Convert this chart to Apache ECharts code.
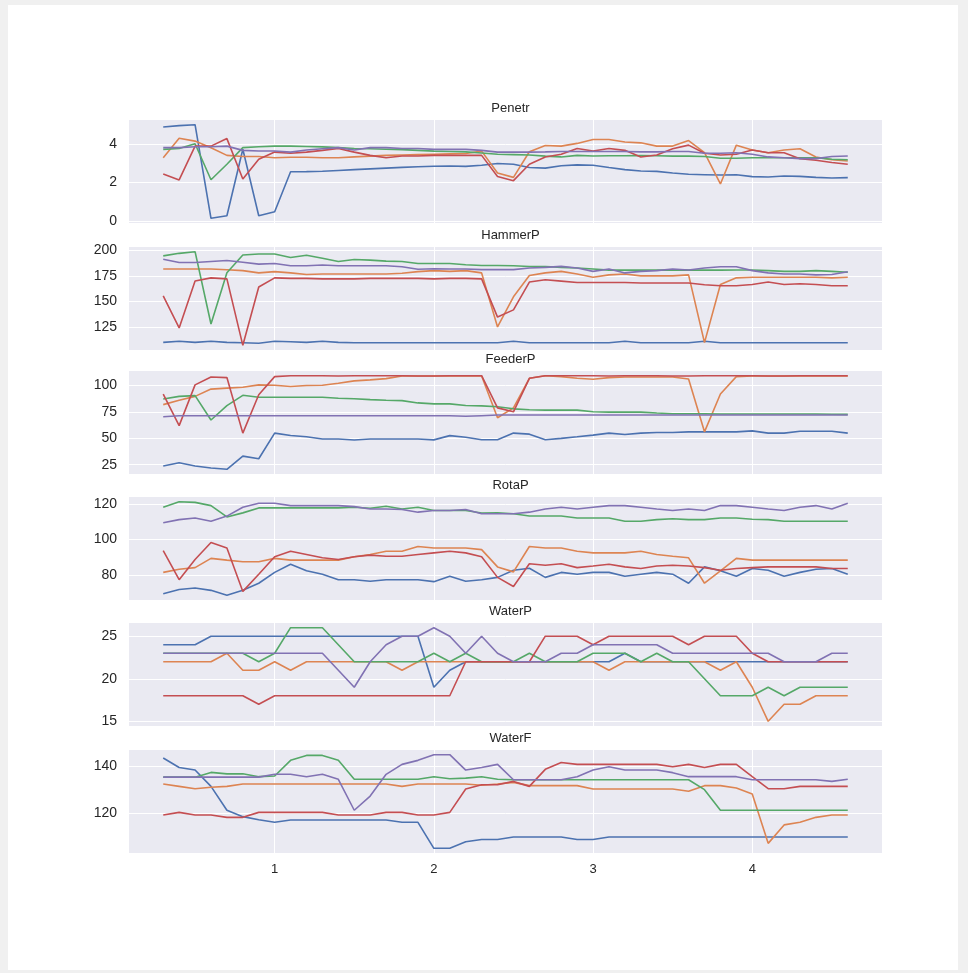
<!DOCTYPE html>
<html>
<head>
<meta charset="utf-8">
<script src="https://cdn.jsdelivr.net/npm/echarts@6/dist/echarts.min.js"></script>
<style>
html,body{margin:0;padding:0;background:#f0f0f0;}
#frame{position:absolute;left:8px;top:5px;width:950px;height:965px;background:#fff;}
#chart{position:absolute;left:0;top:0;width:968px;height:973px;}
</style>
</head>
<body>
<div id="frame"></div>
<div id="chart"></div>
<script>
// x positions of the samples
const xs = [0.3,0.4,0.5,0.6,0.7,0.8,0.9,1.0,1.1,1.2,1.3,1.4,1.5,1.6,1.7,1.8,1.9,2.0,2.1,2.2,2.3,2.4,2.5,2.6,2.7,2.8,2.9,3.0,3.1,3.2,3.3,3.4,3.5,3.6,3.7,3.8,3.9,4.0,4.1,4.2,4.3,4.4,4.5,4.6];
const xTicks = [1,2,3,4];
const panelTitles = ['Penetr','HammerP','FeederP','RotaP','WaterP','WaterF'];
const yTicks = [[0,2,4],[125,150,175,200],[25,50,75,100],[80,100,120],[15,20,25],[120,140]];

// Penetr
const penetrBlue = [4.87,4.94,4.99,0.14,0.27,3.72,0.27,0.48,2.55,2.56,2.58,2.62,2.66,2.70,2.74,2.78,2.81,2.84,2.85,2.83,2.89,2.98,2.94,2.77,2.74,2.86,2.91,2.89,2.77,2.66,2.59,2.57,2.49,2.42,2.40,2.38,2.40,2.30,2.28,2.33,2.31,2.26,2.23,2.25];
const penetrOrange = [3.28,4.29,4.14,3.80,3.40,3.34,3.34,3.28,3.30,3.30,3.28,3.28,3.32,3.36,3.40,3.42,3.44,3.46,3.48,3.50,3.62,2.49,2.26,3.59,3.91,3.88,4.02,4.22,4.22,4.09,4.05,3.88,3.88,4.17,3.54,1.92,3.93,3.68,3.54,3.68,3.74,3.32,3.17,3.11];
const penetrGreen = [3.71,3.76,4.00,2.14,2.94,3.80,3.85,3.88,3.88,3.86,3.84,3.80,3.76,3.74,3.72,3.70,3.66,3.62,3.60,3.58,3.52,3.46,3.44,3.42,3.36,3.32,3.40,3.37,3.38,3.38,3.39,3.38,3.36,3.36,3.34,3.25,3.25,3.28,3.28,3.28,3.28,3.28,3.20,3.17];
const penetrRed = [2.43,2.13,3.88,3.88,4.27,2.18,3.20,3.57,3.51,3.57,3.66,3.76,3.57,3.40,3.28,3.37,3.37,3.40,3.40,3.40,3.40,2.31,2.09,2.94,3.32,3.46,3.76,3.63,3.76,3.66,3.32,3.42,3.74,3.93,3.51,3.42,3.46,3.68,3.54,3.54,3.23,3.15,3.03,2.94];
const penetrPurple = [3.80,3.80,3.85,3.85,3.88,3.66,3.63,3.63,3.57,3.68,3.74,3.80,3.68,3.80,3.80,3.76,3.76,3.71,3.71,3.71,3.66,3.57,3.57,3.57,3.58,3.60,3.60,3.60,3.60,3.60,3.58,3.58,3.60,3.60,3.51,3.51,3.54,3.46,3.32,3.28,3.23,3.23,3.34,3.37];

// HammerP
const hammerBlue = [110.4,111.4,110.4,111.4,110.4,110,109.5,111.4,111,110.4,111.4,110.4,110,110,110,110,110,110,110,110,110,110,111.4,110,110,110,110,110,110,111.4,110,110,110,110,111.4,110,110,110,110,110,110,110,110,110];
const hammerOrange = [181.6,181.6,181.6,181.6,180.9,180,177.8,179,177.8,176.2,176.8,176.8,176.8,176.8,176.8,177.4,179,180,179.3,180,177.8,125.3,154.6,175.2,177.8,179.3,176.8,173.6,175.9,176.8,174.9,174.9,174.9,175.9,110.1,166.6,173,173.6,173.6,173.6,173.6,173.6,173,173.6];
const hammerGreen = [194.3,196.8,198.4,128.2,178,195.2,196.2,196.2,192.7,194.9,192,188.9,190.8,190.2,189.2,188.9,187,187,187,185.7,185,185,184.7,184,184,183.2,182.5,181.6,180.5,180.5,180.5,180.5,180.5,180.5,180.5,180.5,180.6,180.6,180,179.3,179.3,180,179.3,178.4];
const hammerRed = [155.5,124.4,170,173,172,107.5,164.1,173,172.5,172.5,172,172,172,172.5,172.5,172.5,172.5,172,172.5,172.5,172,134.9,141.9,168.9,171.1,169.8,168.5,168.5,168.5,168.5,168,168,168,168,166.3,165.4,165.4,166.6,168.9,166.6,167.3,166.6,165.4,165.4];
const hammerPurple = [191.1,187.9,187.9,188.9,189.8,188.2,186.3,187,184.7,184.7,185.4,184.7,184.7,184.7,184.7,183.8,181.3,181.9,181.6,181.6,181,181,181,182.5,183.2,184.1,182.5,179.3,181.6,177.8,179.3,180,181.6,180.6,182.5,183.8,183.8,180,177.8,176.8,176.8,175.9,176.2,179];

// FeederP
const feederBlue = [23.7,26.8,23.7,21.9,20.6,33.1,30.6,54.9,52.7,51.4,49.3,49.3,48.3,49.3,49.3,49.3,49.3,48.5,52.5,51,48.6,48.6,54.9,53.9,48.6,49.9,51.4,53,54.9,53.6,54.9,55.5,55.5,56.1,56.1,56.1,56.1,57,54.9,54.9,56.7,56.7,56.7,54.9];
const feederOrange = [81.9,86,89.7,96.6,97.5,98.4,100.6,100.3,99.1,100,100.3,102.2,104.4,105.3,106.5,109,109,109,109,109,109,69.5,78.8,106.8,109.3,108.4,106.8,105.9,107.5,108,108,108,108,106.2,56.1,91.9,108.4,109,109,109,109,109,109,109];
const feederGreen = [87.2,89.7,90.4,67.3,81,90.7,88.8,88.8,88.8,88.8,88.8,87.9,87.5,86.6,86,85.7,83.5,82.6,82.6,81,80.7,79.8,77.9,77,76.7,76.7,76.7,75.1,74.8,74.8,74.8,73.9,73.2,73.2,73.2,73,73,73,73,73,73,73,72.8,72.6];
const feederRed = [91.9,62,100.6,108.1,107.5,54.9,91.3,108.4,109.3,109.3,109.3,109,109.3,109.3,109.3,109.3,109,109,109.3,109.3,109.3,78.8,75.1,106.8,109.3,109.3,109.3,109.3,109,109.3,109.3,109.3,109,109,109.3,109.3,109.3,109.3,109,109,109.3,109.3,109.3,109.3];
const feederPurple = [70.4,71.4,71.4,71.4,71.4,71.4,71.4,71.4,71.4,71.4,71.4,71.4,71.4,71.4,71.4,71.4,71.4,71.4,71.4,70.8,71.4,72,72,72,72,72,72,72,72,72,72,72,72,72,72,72,72,72,72,72,72,72,72,72];

// RotaP
const rotaBlue = [69.5,71.9,72.7,71.4,68.6,71.4,75.4,81.5,86.1,82.4,80.5,77.4,77.4,76.5,77.4,77.4,77.4,76.3,79.3,76.5,77.4,78.7,82.7,83.8,78.7,81.5,80.5,81.5,81.5,79.3,80.5,81.5,80.5,75.4,84.6,82.4,79.3,83.7,82.7,79.3,81.5,83.3,83.7,80.5];
const rotaOrange = [81.5,83.3,84.2,89.4,88.4,87.5,87.5,89.4,88.4,88.4,88.4,88.4,90.3,91.6,93.4,93.4,96.1,95.2,95.2,95.2,94.3,84.6,81.8,96.1,95.2,95.2,93.4,92.5,92.5,92.5,93.4,91.6,90.6,89.7,75.4,82.4,89.4,88.4,88.4,88.4,88.4,88.4,88.4,88.4];
const rotaGreen = [118.2,121.3,120.9,119.1,112.7,115,117.8,117.8,117.8,117.8,117.8,117.8,118.2,117.6,118.7,117.2,118.2,116.3,116.3,116.3,114.9,115,114.5,113.2,113.2,113.2,112.1,112.1,112.1,110.3,110.3,111.2,111.7,111.2,111.2,112.1,112.1,111.4,111.2,110.3,110.3,110.3,110.3,110.3];
const rotaRed = [93.8,77.4,88.8,98.3,95.2,70.8,80.5,90.3,93.4,91.6,89.7,88.8,90.3,91.2,90.6,90.6,91.6,92.5,93.4,92.5,90.3,78.7,73.6,86.4,85.5,86.4,84.2,85.1,86.1,84.6,83.7,85.1,85.5,85.1,84.2,82.7,83.7,84.2,84.6,84.6,84.6,84.6,83.7,83.7];
const rotaPurple = [109.4,111.2,112.1,110.3,113.2,118.2,120.4,120.4,119.1,119.1,119.1,119.1,118.5,117.2,117.2,116.9,115.4,116.3,116.3,116.9,114.5,114.5,114.5,115.4,117.2,118.2,117.2,118.2,119.1,119.1,118.2,117.2,116.3,117.2,116.3,119.1,119.1,118.2,117.2,116.3,118.2,119.1,117.2,120.4];

// WaterP
const waterPBlue = [24,24,24,25,25,25,25,25,25,25,25,25,25,25,25,25,25,19,21,22,22,22,22,22,22,22,22,22,22,23,22,22,22,22,22,22,22,22,22,22,22,22,22,22];
const waterPOrange = [22,22,22,22,23,21,21,22,21,22,22,22,22,22,22,21,22,22,22,22,22,22,22,22,22,22,22,22,21,22,22,22,22,22,22,21,22,19,15,17,17,18,18,18];
const waterPGreen = [23,23,23,23,23,23,22,23,26,26,26,24,22,22,22,22,22,23,22,23,22,22,22,23,22,22,22,23,23,23,22,23,22,22,20,18,18,18,19,18,19,19,19,19];
const waterPRed = [18,18,18,18,18,18,17,18,18,18,18,18,18,18,18,18,18,18,18,22,22,22,22,22,25,25,25,24,25,25,25,25,25,24,25,25,25,23,22,22,22,22,22,22];
const waterPPurple = [23,23,23,23,23,23,23,23,23,23,23,21,19,22,24,25,25,26,25,23,25,23,22,22,22,23,23,24,24,24,24,24,23,23,23,23,23,23,23,22,22,22,23,23];

// WaterF
const waterFBlue = [143.3,139.3,138.2,131.3,121.2,118.5,117.2,116.1,117.1,117.1,117.1,117.1,117.1,117.1,117.1,116.1,116.1,105.1,105.1,107.9,108.8,108.8,109.9,109.9,109.9,109.9,108.8,108.8,109.9,109.9,109.9,109.9,109.9,109.9,109.9,109.9,109.9,109.9,109.9,109.9,109.9,109.9,109.9,109.9];
const waterFOrange = [132.3,131.3,130.3,130.9,131.3,132.3,132.3,132.3,132.3,132.3,132.3,132.3,132.3,132.3,132.3,131.3,132.3,132.3,132.3,132.3,131.8,132.3,133,131.6,131.6,131.6,131.6,130.2,130.2,130.2,130.2,130.2,130.2,129.2,131.6,131.6,130.6,128.1,107.2,115,116.1,118.2,119.2,119.2];
const waterFGreen = [135.2,135.2,135.2,137.2,136.6,136.6,135.4,135.7,142.3,144.4,144.4,142.3,134.3,134.3,134.3,134.3,134.3,135.4,134.5,134.8,135.4,134.3,134.1,134.1,134.1,134.1,134.1,134.1,134.1,134.1,134.1,134.1,134.1,134.1,129.9,121.2,121.2,121.2,121.2,121.2,121.2,121.2,121.2,121.2];
const waterFRed = [119.2,120.3,119.2,119.2,118.2,118.2,120.3,120.3,120.3,120.3,120.3,119.2,119.2,119.2,120.3,120.3,119.2,119.2,120.3,130.2,132,132,133.4,131.3,138.5,141.4,140.6,140.6,140.6,140.6,140.6,140.6,139.6,140.6,139.3,140.6,140.6,135.4,130.3,130.3,131.3,131.3,131.3,131.3];
const waterFPurple = [135.2,135.2,135.2,135.2,135.2,135.2,135.2,136.4,136.4,135.4,136.4,134.3,121.2,127.2,136.4,140.6,142.3,144.7,144.7,138.2,139.3,140.6,134.1,134.1,134.1,134.1,135.4,138.2,139.6,138.2,138.2,138.2,137.1,135.4,135.4,135.4,135.4,134.1,134.1,134.1,134.1,134.1,133.4,134.3];

const panelSeries = [
  [penetrBlue, penetrOrange, penetrGreen, penetrRed, penetrPurple],
  [hammerBlue, hammerOrange, hammerGreen, hammerRed, hammerPurple],
  [feederBlue, feederOrange, feederGreen, feederRed, feederPurple],
  [rotaBlue, rotaOrange, rotaGreen, rotaRed, rotaPurple],
  [waterPBlue, waterPOrange, waterPGreen, waterPRed, waterPPurple],
  [waterFBlue, waterFOrange, waterFGreen, waterFRed, waterFPurple]
];

const COLORS = ['#4C72B0','#DD8452','#55A868','#C44E52','#8172B3'];
const FONT = "'Liberation Sans', Arial, sans-serif";
const GRID_LEFT = 129, GRID_W = 753, GRID_H = 103;
const GRID_TOPS = [120, 247, 371, 497, 623, 750];

const xLo = xs[0] - 0.05 * (xs[xs.length-1] - xs[0]);
const xHi = xs[xs.length-1] + 0.05 * (xs[xs.length-1] - xs[0]);

const grids = [], xAxes = [], yAxes = [], titles = [], series = [];
panelSeries.forEach((group, p) => {
  let lo = Infinity, hi = -Infinity;
  group.forEach(arr => arr.forEach(v => { lo = Math.min(lo, v); hi = Math.max(hi, v); }));
  const pad = 0.05 * (hi - lo);
  grids.push({left: GRID_LEFT, top: GRID_TOPS[p], width: GRID_W, height: GRID_H,
    show: true, backgroundColor: '#EAEAF2', borderWidth: 0, containLabel: false});
  xAxes.push({type: 'value', gridIndex: p, min: xLo, max: xHi,
    axisLine: {show: false},
    axisTick: {show: false, customValues: xTicks},
    axisLabel: {show: p === 5, customValues: xTicks, color: '#262626', fontSize: 13, fontFamily: FONT, margin: 10},
    splitLine: {show: true, lineStyle: {color: '#ffffff', width: 1}}});
  yAxes.push({type: 'value', gridIndex: p, min: lo - pad, max: hi + pad,
    axisLine: {show: false},
    axisTick: {show: false, customValues: yTicks[p]},
    axisLabel: {customValues: yTicks[p], color: '#262626', fontSize: 14, fontFamily: FONT, margin: 12},
    splitLine: {show: true, lineStyle: {color: '#ffffff', width: 1}}});
  titles.push({text: panelTitles[p], left: GRID_LEFT + GRID_W / 2, textAlign: 'center',
    top: GRID_TOPS[p] - 23,
    textStyle: {fontSize: 13, fontWeight: 'normal', color: '#262626', fontFamily: FONT}});
  group.forEach((arr, k) => {
    series.push({type: 'line', xAxisIndex: p, yAxisIndex: p,
      data: arr.map((v, i) => [xs[i], v]),
      showSymbol: false, symbol: 'none',
      lineStyle: {color: COLORS[k], width: 1.6},
      itemStyle: {color: COLORS[k]},
      animation: false});
  });
});

const chart = echarts.init(document.getElementById('chart'), null, {renderer: 'canvas'});
chart.setOption({
  backgroundColor: 'transparent',
  animation: false,
  title: titles,
  grid: grids,
  xAxis: xAxes,
  yAxis: yAxes,
  series: series
});
</script>
</body>
</html>
